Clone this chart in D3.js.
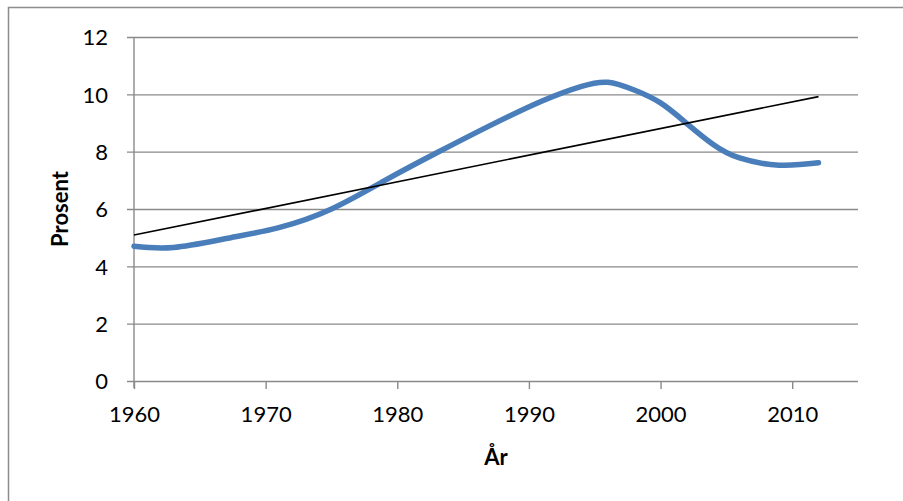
<!DOCTYPE html>
<html>
<head>
<meta charset="utf-8">
<script src="https://cdn.jsdelivr.net/npm/d3@7"></script>
<style>
  html, body { margin: 0; padding: 0; background: #fff; }
  svg { display: block; }
  text { font-family: Lato, "Open Sans", sans-serif; fill: #000; }
</style>
</head>
<body>
<svg id="chart" width="903" height="501"></svg>
<script>
// ---- data ----
const years = [1960, 1963, 1967, 1971, 1975, 1979, 1983, 1987, 1991, 1994, 1996, 1998, 2000, 2002, 2004, 2006, 2009, 2012];
const values = [4.70, 4.66, 4.97, 5.35, 6.00, 6.98, 7.96, 8.90, 9.77, 10.28, 10.42, 10.15, 9.70, 8.98, 8.25, 7.78, 7.53, 7.61];
const trendYears = [1960, 2012];
const trendValues = [5.09, 9.92];
const xTicks = [1960, 1970, 1980, 1990, 2000, 2010];
const yTicks = [0, 2, 4, 6, 8, 10, 12];
const xTitle = "År";
const yTitle = "Prosent";

// ---- layout ----
const svg = d3.select("#chart");
const mLeft = 134, mRight = 858, mTop = 37, mBottom = 381;
const x = d3.scaleLinear().domain([1960, 2015]).range([mLeft, mRight]);
const y = d3.scaleLinear().domain([0, 12]).range([mBottom, mTop]);
const grey = "#8a8a8a";

// outer border
svg.append("rect").attr("x", 8.5).attr("y", 7.5).attr("width", 1000).attr("height", 1000)
  .attr("fill", "none").attr("stroke", "#8c8c8c").attr("stroke-width", 1.5);

// horizontal gridlines (incl. axis at 0) via axis
const yAxis = d3.axisLeft(y).tickValues(yTicks).tickSize(-(mRight - mLeft)).tickSizeOuter(0).tickPadding(0);
const gy = svg.append("g").attr("transform", `translate(${mLeft},0)`).call(yAxis);
gy.select(".domain").remove();
gy.selectAll(".tick line").attr("stroke", grey).attr("stroke-width", 1.4).attr("x1", -7).attr("x2", mRight - mLeft);
gy.selectAll(".tick text").attr("x", -26).attr("dy", "0.36em").style("font-size", "22px").style("font-family", "Lato, sans-serif").attr("fill", "#000");

// y axis line
svg.append("line").attr("x1", mLeft).attr("x2", mLeft).attr("y1", mTop).attr("y2", mBottom + 7)
  .attr("stroke", grey).attr("stroke-width", 1.4);

// x axis ticks
const xAxis = d3.axisBottom(x).tickValues(xTicks).tickFormat(d3.format("d")).tickSize(8).tickSizeOuter(0).tickPadding(17);
const gx = svg.append("g").attr("transform", `translate(0,${mBottom})`).call(xAxis);
gx.select(".domain").remove();
gx.selectAll(".tick line").attr("stroke", grey).attr("stroke-width", 1.4);
gx.selectAll(".tick text").style("font-size", "22px").style("font-family", "Lato, sans-serif").attr("fill", "#000");

// data line
const line = d3.line().x((d, i) => x(years[i])).y(d => y(d)).curve(d3.curveNatural);
svg.append("path").attr("d", line(values)).attr("fill", "none")
  .attr("stroke", "#4a7ebb").attr("stroke-width", 5.5).attr("stroke-linecap", "round").attr("stroke-linejoin", "round");

// trend line
const tline = d3.line().x((d, i) => x(trendYears[i])).y(d => y(d));
svg.append("path").attr("d", tline(trendValues)).attr("fill", "none")
  .attr("stroke", "#000").attr("stroke-width", 1.6);

// titles
svg.append("text").attr("x", (mLeft + mRight) / 2).attr("y", 465).attr("text-anchor", "middle")
  .style("font-size", "22px").style("font-weight", "bold").text(xTitle);
svg.append("text").attr("transform", `translate(68,${(mTop + mBottom) / 2}) rotate(-90)`).attr("text-anchor", "middle")
  .style("font-size", "22px").style("font-weight", "bold").text(yTitle);
</script>
</body>
</html>
